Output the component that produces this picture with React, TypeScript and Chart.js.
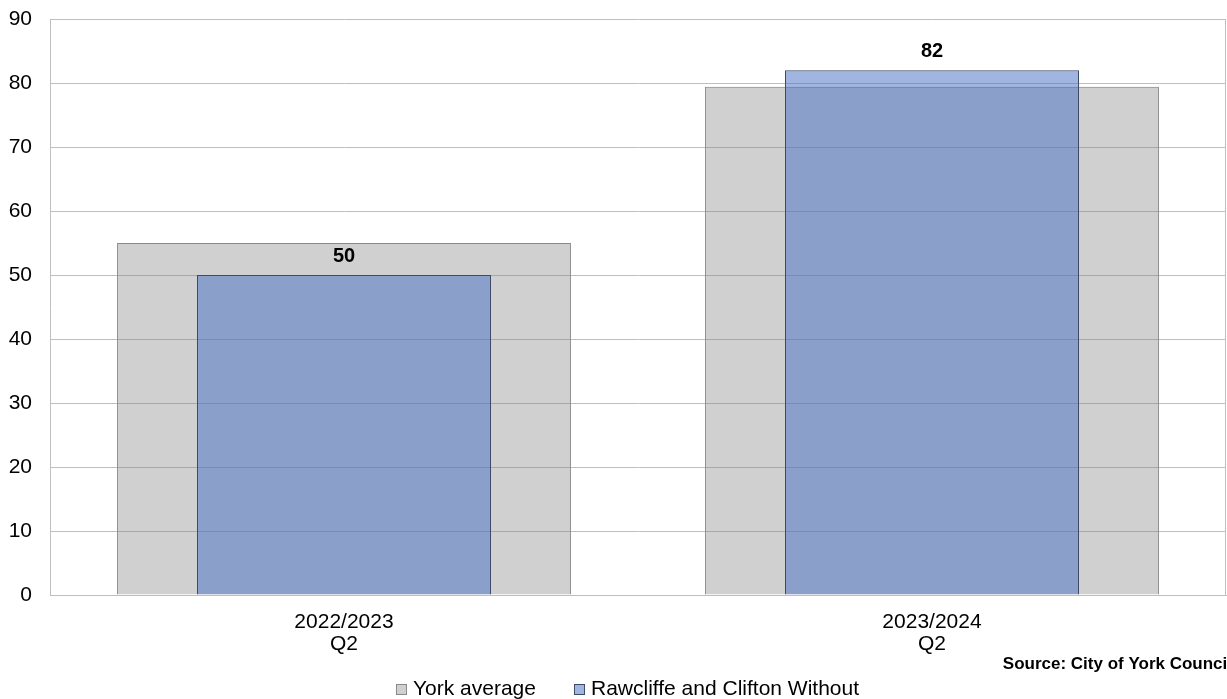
import React, { useEffect, useRef } from "react";
import { Chart, registerables } from "chart.js";

Chart.register(...registerables);

const categories: string[][] = [["2022/2023", "Q2"], ["2023/2024", "Q2"]];
const yorkAverage: number[] = [55, 79.4];
const rawcliffe: number[] = [50, 82];
const seriesNames: string[] = ["York average", "Rawcliffe and Clifton Without"];
const sourceText = "Source: City of York Council";

const FONT = "'Liberation Sans', Arial, sans-serif";
const GREY_FILL = "rgba(128,128,128,0.37)";
const GREY_BORDER = "#8a8a8a";
const BLUE_FILL = "rgba(76,118,197,0.53)";
const BLUE_BORDER = "#3f4a66";
const LEGEND_BOX_FILL = ["#d0d0d0", "#a0b6e0"];

export default function App() {
  const ref = useRef<HTMLCanvasElement>(null);

  useEffect(() => {
    document.body.style.margin = "0";
    const canvas = ref.current!;

    const decorPlugin = {
      id: "decor",
      beforeDatasetsDraw(chart: any) {
        const { ctx, chartArea } = chart;
        ctx.save();
        ctx.strokeStyle = "#bebebe";
        ctx.lineWidth = 1;
        ctx.beginPath();
        const x = Math.round(chartArea.right) - 0.5;
        ctx.moveTo(x, chartArea.top);
        ctx.lineTo(x, chartArea.bottom);
        ctx.stroke();
        ctx.restore();
      },
      afterDatasetsDraw(chart: any) {
        const ctx = chart.ctx;
        const meta = chart.getDatasetMeta(1);
        ctx.save();
        ctx.font = `bold 20px ${FONT}`;
        ctx.fillStyle = "#000";
        ctx.textAlign = "center";
        ctx.textBaseline = "middle";
        meta.data.forEach((bar: any, i: number) => {
          ctx.fillText(String(rawcliffe[i]), bar.x, bar.y - 19);
        });
        ctx.restore();
      },
      afterDraw(chart: any) {
        const ctx = chart.ctx;
        ctx.save();
        // source note
        ctx.font = `bold 17px ${FONT}`;
        ctx.fillStyle = "#000";
        ctx.textAlign = "right";
        ctx.textBaseline = "middle";
        ctx.fillText(sourceText, 1232, 664);
        // legend
        ctx.font = `21px ${FONT}`;
        const box = 11;
        const gapText = 6;
        const gapItem = 38;
        const widths = seriesNames.map((n) => ctx.measureText(n).width);
        const total = widths.reduce((s, w) => s + box + gapText + w, 0) + gapItem * (seriesNames.length - 1);
        let x = Math.round(628 - total / 2);
        const cy = 689;
        const borders = [GREY_BORDER, BLUE_BORDER];
        ctx.textAlign = "left";
        seriesNames.forEach((n, i) => {
          ctx.fillStyle = LEGEND_BOX_FILL[i];
          ctx.fillRect(x + 0.5, cy - 4.5, box - 1, box - 1);
          ctx.strokeStyle = borders[i];
          ctx.lineWidth = 1;
          ctx.strokeRect(x + 0.5, cy - 4.5, box - 1, box - 1);
          ctx.fillStyle = "#000";
          ctx.fillText(n, x + box + gapText, cy);
          x += box + gapText + widths[i] + gapItem;
        });
        ctx.restore();
      },
    };

    const chart = new Chart(canvas, {
      type: "bar",
      data: {
        labels: categories,
        datasets: [
          {
            label: seriesNames[0],
            data: yorkAverage,
            backgroundColor: GREY_FILL,
            borderColor: GREY_BORDER,
            borderWidth: 1,
            grouped: false,
            categoryPercentage: 1,
            barPercentage: 0.772,
            order: 2,
          },
          {
            label: seriesNames[1],
            data: rawcliffe,
            backgroundColor: BLUE_FILL,
            borderColor: BLUE_BORDER,
            borderWidth: 1,
            grouped: false,
            categoryPercentage: 1,
            barPercentage: 0.5,
            order: 1,
          },
        ],
      },
      options: {
        responsive: false,
        animation: false,
        layout: { padding: { left: 0, right: 1, top: 19, bottom: 21 } },
        scales: {
          x: {
            grid: { display: false, drawTicks: false },
            border: { color: "#bebebe", width: 1 },
            ticks: {
              color: "#000",
              font: { family: FONT, size: 21, lineHeight: 1.05 },
              padding: 16,
              maxRotation: 0,
            },
            afterFit(scale: any) {
              scale.height = 83;
              scale.paddingLeft = 0;
              scale.paddingRight = 0;
            },
          },
          y: {
            min: 0,
            max: 90,
            grid: { color: "#bebebe", lineWidth: 1, drawTicks: false },
            border: { color: "#bebebe", width: 1 },
            ticks: {
              stepSize: 10,
              color: "#000",
              font: { family: FONT, size: 21 },
              padding: 18,
            },
            afterFit(scale: any) {
              scale.width = 50;
              scale.paddingTop = 0;
              scale.paddingBottom = 0;
            },
          },
        },
        plugins: {
          legend: { display: false },
          tooltip: { enabled: false },
        },
      },
      plugins: [decorPlugin],
    } as any);

    return () => chart.destroy();
  }, []);

  return <canvas ref={ref} width={1227} height={699} style={{ display: "block" }} />;
}
